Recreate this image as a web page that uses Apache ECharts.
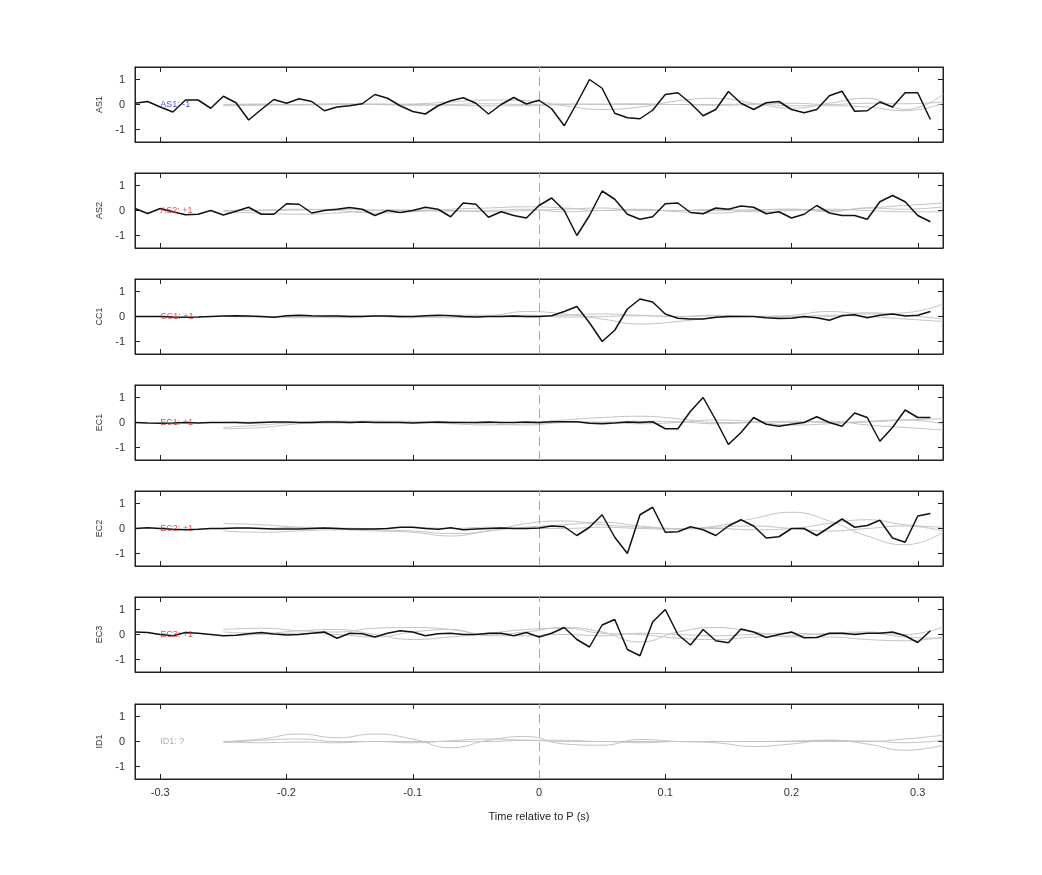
<!DOCTYPE html>
<html><head><meta charset="utf-8">
<script src="https://cdn.jsdelivr.net/npm/echarts@6/dist/echarts.min.js"></script>
<style>html,body{margin:0;padding:0;background:#fff}#c{width:1042px;height:875px}</style>
</head><body><div id="c"></div>
<script>
const stations = ["AS1","AS2","CC1","EC1","EC2","EC3","ID1"];
const stationLabels = ["AS1: -1","AS2: +1","CC1: +1","EC1: +1","EC2: +1","EC3: +1","ID1: ?"];
const labelColors = ["#1a1acc","#dd2222","#dd2222","#dd2222","#dd2222","#dd2222","#999999"];
const xTicks = [-0.3,-0.2,-0.1,0,0.1,0.2,0.3];
const yTicks = [-1,0,1];
const timeStart = -0.32, timeStep = 0.01;
const grayTimes = [-0.25,-0.22,-0.19,-0.16,-0.13,-0.10,-0.07,-0.04,-0.01,0.02,0.05,0.08,0.11,0.14,0.17,0.20,0.23,0.26,0.29,0.32];

const AS1 = [0.05,0.12,-0.1,-0.3,0.18,0.18,-0.15,0.33,0.07,-0.62,-0.2,0.2,0.05,0.23,0.12,-0.25,-0.1,-0.05,0.03,0.4,0.25,-0.05,-0.28,-0.38,-0.05,0.15,0.27,0.05,-0.38,0.0,0.28,0.02,
 0.17,-0.17,-0.85,0.05,1.0,0.65,-0.35,-0.53,-0.57,-0.23,0.4,0.47,0.05,-0.45,-0.2,0.52,0.05,-0.2,0.07,0.12,-0.2,-0.33,-0.2,0.35,0.53,-0.27,-0.25,0.1,-0.1,0.47,0.47,-0.6];
const AS2 = [0.08,-0.12,0.08,-0.05,-0.17,-0.15,0.0,-0.18,-0.03,0.13,-0.15,-0.15,0.27,0.25,-0.1,0.0,0.05,0.12,0.05,-0.2,0.0,-0.08,0.0,0.13,0.05,-0.25,0.3,0.25,-0.27,-0.05,-0.2,-0.3,
 0.2,0.5,0.0,-1.0,-0.2,0.78,0.45,-0.15,-0.35,-0.25,0.27,0.3,-0.08,-0.13,0.1,0.05,0.18,0.13,-0.13,-0.05,-0.3,-0.15,0.2,-0.1,-0.2,-0.2,-0.35,0.35,0.6,0.35,-0.2,-0.45];
const CC1 = [0,0,0,-0.02,-0.03,-0.02,0,0.02,0.03,0.02,0,-0.03,0.03,0.05,0.03,0.02,0.02,0,0,0.02,0.02,0,0,0.03,0.05,0.03,0,-0.02,0,0,0.02,0,
 0,0.03,0.2,0.4,-0.25,-1.0,-0.55,0.3,0.7,0.58,0.1,-0.07,-0.1,-0.1,-0.03,0,0,0,-0.05,-0.08,-0.07,0,-0.05,-0.15,0.03,0.07,-0.05,0.05,0.1,0.02,0.05,0.2];
const EC1 = [0,-0.02,-0.03,-0.02,0,-0.02,0,0,0,-0.02,0,0.02,0.02,0,0,0.02,0.02,0,0.02,0,0,0,-0.02,0,0.02,0,0,0,0.02,0,0,0.02,
 0,0.03,0.03,0.03,-0.03,-0.05,-0.02,0.02,0,0.03,-0.25,-0.25,0.45,1.0,0.1,-0.88,-0.4,0.2,-0.07,-0.15,-0.07,0,0.23,0,-0.15,0.38,0.2,-0.75,-0.2,0.5,0.2,0.2];
const EC2 = [0,0.03,0,-0.03,-0.05,-0.03,0,0,0.02,0.02,0,-0.02,-0.02,-0.02,0,0.02,0,-0.02,-0.02,-0.02,0,0.05,0.05,0,-0.03,0.03,-0.05,-0.02,0,0.02,0,0,
 0.02,0.1,0.07,-0.28,0.05,0.55,-0.35,-1.0,0.55,0.85,-0.15,-0.13,0.07,-0.05,-0.28,0.1,0.35,0.1,-0.38,-0.33,0,0,-0.28,0.05,0.38,0.05,0.12,0.33,-0.38,-0.55,0.5,0.6];
const EC3 = [0.1,0.08,0,-0.05,0.08,0.05,0,-0.05,-0.03,0.03,0.08,0.02,-0.02,0,0.05,0.1,-0.15,0.05,0.03,-0.1,0.05,0.15,0.1,-0.05,0.03,0.05,0,0,0.05,0.05,-0.05,0.08,
 -0.1,0.05,0.28,-0.2,-0.5,0.38,0.6,-0.6,-0.85,0.5,1.0,0,-0.42,0.2,-0.25,-0.33,0.22,0.1,-0.12,0,0.1,-0.13,-0.12,0.05,0.05,0,0.05,0.05,0.1,-0.05,-0.32,0.15];
const ID1 = null;

const grayAS1 = [
 [0,0,0,0,0,0.02,0.1,0.18,0.15,-0.05,-0.2,-0.1,0.15,0.25,0.05,-0.15,0.05,0.25,-0.2,0.4],
 [-0.05,-0.03,0,0.03,0,-0.03,0,0.03,0,0.02,0,0,0,-0.03,0,0.05,0,0.05,0.03,0.1],
 [0,0.02,-0.02,0,0.02,0,-0.03,-0.05,-0.05,0,0.02,0.03,0,0,0.02,-0.05,-0.05,-0.1,-0.25,0.05]];
const grayAS2 = [
 [0,0.02,0.05,0,-0.1,-0.05,0.05,0.1,0.15,0.1,0,0.05,-0.05,-0.1,0,0.05,0,0.1,0.2,0.3],
 [-0.05,-0.1,-0.15,-0.1,0,0.02,0,-0.05,0,0.05,0.1,0,0,0.05,-0.05,0,0.05,0,-0.05,-0.05],
 [0,0,0.02,0.05,0.02,0,-0.03,0,0.05,-0.05,0,0.02,0,0,0.03,0.05,-0.05,0.1,0.05,0.15]];
const grayCC1 = [
 [0,0,0,0.02,0,-0.05,0.05,0.05,0.2,0.1,-0.1,-0.3,-0.2,-0.05,0,0.05,0.2,0.1,0.15,0.5],
 [0,-0.02,0,-0.05,0,0,0.05,0,-0.02,0.05,0.1,0.05,0,0.02,0,0,0.05,0,-0.1,-0.2],
 [0,0,-0.05,0,0.03,0,-0.05,0,0.05,-0.02,0,0.03,0,0.05,0,-0.05,0,0.15,0.05,-0.1]];
const grayEC1 = [
 [-0.25,-0.2,-0.05,0,0.05,0.05,0,0,0,0.1,0.2,0.25,0.15,0,0,-0.1,-0.05,0.05,0.1,-0.05],
 [-0.2,-0.1,0,0.05,0.05,0,0.02,-0.05,-0.1,0,0.02,-0.05,0,0.1,0.05,0,0.05,-0.1,-0.2,-0.3],
 [0,0.02,0,-0.02,0,0,-0.05,-0.1,-0.05,0,0,0.05,0.03,-0.05,0,0.05,0,0.02,0.1,0.15]];
const grayEC2 = [
 [0.2,0.15,0.05,0,-0.05,-0.1,-0.2,-0.1,0.2,0.3,0.15,0.05,0,0.1,0.4,0.65,0.3,-0.3,-0.65,-0.15],
 [-0.1,-0.15,-0.1,-0.05,-0.1,-0.15,-0.3,-0.1,0.05,0.15,0.25,0.1,0,0,-0.05,0,0.2,0.35,0.15,0.05],
 [0.02,0,0.05,0.02,0,0.05,0,0.05,0,0,0.05,0,-0.03,0.05,0.1,0,-0.1,0,0.1,-0.1]];
const grayEC3 = [
 [0.2,0.25,0.15,0.1,0.25,0.28,0.2,0.0,0.1,0.28,0.1,-0.3,0.1,0.28,0.1,-0.1,-0.1,-0.2,-0.25,-0.1],
 [0.1,0.05,0.15,0.2,0.0,-0.2,-0.1,0.05,0.2,0.25,0.05,0.0,-0.15,-0.2,-0.1,-0.05,0.05,0.1,0.0,0.3],
 [-0.05,0,0.05,0,-0.1,0.1,0.2,-0.05,-0.05,0,-0.05,0.05,0,-0.05,0,0.05,0,0.05,-0.1,-0.15]];
const grayID1 = [
 [0,0.1,0.3,0.15,0.3,0.1,-0.25,0.05,0.2,-0.1,-0.15,0.08,0,-0.05,-0.2,-0.1,0.05,-0.1,-0.35,-0.15],
 [-0.05,0.05,0.1,0,0,-0.05,0.03,0.1,0.05,0.05,0,0,0,0,0,0.02,0.05,0,0.1,0.25],
 [0,-0.05,-0.02,-0.05,0,0,0,0,0.05,0,0,-0.05,0,0,0,0,0,0.02,-0.05,0.05]];

const blackData = [AS1,AS2,CC1,EC1,EC2,EC3,ID1];
const grayData = [grayAS1,grayAS2,grayCC1,grayEC1,grayEC2,grayEC3,grayID1];

const tops = [67,173,279,385,491,597,704];
const grids=[],xAxes=[],yAxes=[],series=[];
const axLine={show:true,onZero:false,lineStyle:{color:'#222',width:1}};
stations.forEach((st,i)=>{
  grids.push({left:135,right:99,top:tops[i],height:75,show:true,borderColor:'#222',borderWidth:1});
  const last = i===stations.length-1;
  const baseX={type:'value',gridIndex:i,min:-0.32,max:0.32,
    axisLine:axLine,splitLine:{show:false},
    axisTick:{show:true,inside:true,length:5,lineStyle:{color:'#222'},customValues:xTicks},
    axisLabel:{show:false,customValues:xTicks}};
  xAxes.push(Object.assign({},baseX,{position:'bottom',
    axisLabel:{show:last,customValues:xTicks,color:'#333',fontSize:11,fontFamily:'Liberation Sans',margin:8,formatter:v=>String(Math.round(v*10)/10)},
    name:last?'Time relative to P (s)':'',nameLocation:'middle',nameGap:32,
    nameTextStyle:{color:'#222',fontSize:11,fontFamily:'Liberation Sans'}}));
  xAxes.push(Object.assign({},baseX,{position:'top'}));
  const baseY={type:'value',gridIndex:i,min:-1.5,max:1.5,axisLine:axLine,splitLine:{show:false},
    axisTick:{show:true,inside:true,length:5,lineStyle:{color:'#222'},customValues:yTicks}};
  yAxes.push(Object.assign({},baseY,{position:'left',name:st,nameLocation:'middle',nameGap:26,nameRotate:90,
    nameTextStyle:{color:'#333',fontSize:9,fontFamily:'Liberation Sans'},
    axisLabel:{customValues:yTicks,color:'#333',fontSize:11,fontFamily:'Liberation Sans',margin:10}}));
  yAxes.push(Object.assign({},baseY,{position:'right',axisLabel:{show:false}}));
  grayData[i].forEach(tr=>{
    series.push({type:'line',xAxisIndex:2*i,yAxisIndex:2*i,smooth:0.5,symbol:'none',silent:true,
      lineStyle:{color:'#c4c4c4',width:1},data:tr.map((v,k)=>[grayTimes[k],v])});
  });
  const bd = blackData[i];
  series.push({type:'line',xAxisIndex:2*i,yAxisIndex:2*i,symbol:'none',z:5,
    lineStyle:{color:'#111',width:1.5},
    data: bd? bd.map((v,k)=>[timeStart+k*timeStep,v]) : [],
    markLine:{silent:true,symbol:'none',label:{show:false},
      lineStyle:{color:i===6?'#aaa':'#e88',type:[9,5],width:1},data:[{xAxis:0}]}});
  series.push({type:'scatter',xAxisIndex:2*i,yAxisIndex:2*i,symbolSize:0,z:6,silent:true,
    data:[[-0.3,0]],label:{show:true,position:'right',distance:0,formatter:stationLabels[i],
      color:labelColors[i],fontSize:9,fontFamily:'Liberation Sans'}});
});
const chart=echarts.init(document.getElementById('c'));
chart.setOption({animation:false,backgroundColor:'#fff',grid:grids,xAxis:xAxes,yAxis:yAxes,series});
</script></body></html>
